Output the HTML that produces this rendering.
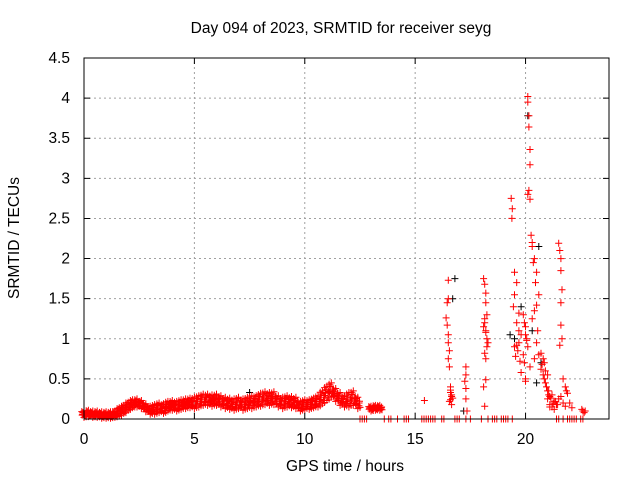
<!DOCTYPE html>
<html><head><meta charset="utf-8"><style>
body{margin:0;background:#fff}
svg{display:block;font-family:"Liberation Sans",sans-serif;font-size:15.5px}
</style></head><body>
<svg id="chart" width="640" height="480">
<rect width="640" height="480" fill="#fff"/>
<text x="341" y="33" text-anchor="middle">Day 094 of 2023, SRMTID for receiver seyg</text>
<text transform="translate(19,238) rotate(-90)" text-anchor="middle">SRMTID / TECUs</text>
<text x="345" y="471" text-anchor="middle">GPS time / hours</text>
<g id="grid"></g>
<g id="ticks"></g>
<g id="marks"></g>
<rect x="84" y="58" width="525" height="361" fill="none" stroke="#000"/>
</svg>
<script>
const xTicks=[0,5,10,15,20];
const yTicks=[0,0.5,1,1.5,2,2.5,3,3.5,4,4.5];
const yTickLabels=["0","0.5","1","1.5","2","2.5","3","3.5","4","4.5"];
const bandTimes=[0,0.2,0.4,0.6,0.8,1.0,1.2,1.4,1.6,1.8,2.0,2.2,2.4,2.6,2.8,3.0,3.2,3.4,3.6,3.8,4.0,4.2,4.4,4.6,4.8,5.0,5.2,5.4,5.6,5.8,6.0,6.2,6.4,6.6,6.8,7.0,7.2,7.4,7.6,7.8,8.0,8.2,8.4,8.6,8.8,9.0,9.2,9.4,9.6,9.8,10.0,10.2,10.4,10.6,10.8,11.0,11.2,11.4,11.6,11.8,12.0,12.2,12.4,13.0,13.2,13.4];
const bandValues=[0.06,0.07,0.06,0.06,0.05,0.05,0.05,0.06,0.09,0.12,0.16,0.19,0.2,0.18,0.14,0.11,0.12,0.14,0.13,0.16,0.17,0.16,0.18,0.19,0.2,0.2,0.22,0.24,0.24,0.23,0.24,0.22,0.2,0.19,0.18,0.2,0.18,0.2,0.21,0.22,0.24,0.26,0.25,0.26,0.22,0.2,0.22,0.21,0.2,0.16,0.18,0.18,0.2,0.22,0.27,0.32,0.36,0.3,0.25,0.22,0.24,0.26,0.2,0.13,0.14,0.14];
const bandSpread=[0.04,0.04,0.04,0.04,0.04,0.04,0.04,0.04,0.05,0.05,0.05,0.05,0.05,0.05,0.05,0.05,0.06,0.06,0.06,0.06,0.06,0.06,0.06,0.06,0.06,0.07,0.07,0.07,0.07,0.07,0.07,0.07,0.07,0.07,0.07,0.07,0.07,0.07,0.08,0.07,0.08,0.08,0.08,0.08,0.07,0.07,0.07,0.07,0.07,0.06,0.06,0.06,0.06,0.07,0.08,0.09,0.09,0.08,0.08,0.07,0.09,0.09,0.07,0.03,0.03,0.03];
const scatterTimes=[15.42,16.5,16.5,16.45,16.4,16.45,16.5,16.5,16.55,16.5,16.55,16.6,16.6,16.65,16.6,16.65,17.3,17.3,17.25,17.3,17.3,17.35,18.1,18.15,18.2,18.2,18.25,18.15,18.1,18.2,18.25,18.3,18.15,18.2,18.2,18.1,18.15,19.35,19.4,19.38,19.5,19.6,19.5,19.45,19.7,19.6,19.8,19.7,19.5,19.9,19.75,19.8,20.0,20.1,20.1,20.15,20.15,20.2,20.2,20.15,20.1,20.2,20.25,20.3,20.3,20.4,20.35,20.5,20.45,20.6,20.5,20.4,20.3,20.55,20.5,20.6,20.4,20.7,20.8,20.85,20.9,21.0,20.9,21.05,21.0,21.1,21.2,21.3,21.4,21.5,21.6,21.7,21.8,21.9,22.0,22.1,21.5,21.55,21.6,21.6,21.65,21.6,21.6,21.65,21.55,21.7,21.8,21.85,22.6,22.65,19.9,20.0,20.05,20.1,19.95,20.2,20.0,16.6,16.65,16.7,16.55,18.15,18.2,18.25,19.6,19.65,19.55,19.7,20.0,20.05,19.95,20.7,20.75,20.8,20.85,20.9,20.95,21.0,21.05,21.1,21.15,21.25,21.35,21.45,21.3,21.2,21.1,22.55,22.7];
const scatterValues=[0.23,1.73,1.5,1.45,1.26,1.17,1.05,0.95,0.85,0.75,0.65,0.4,0.33,0.28,0.24,0.18,0.65,0.55,0.47,0.38,0.25,0.1,1.75,1.68,1.57,1.45,1.3,1.2,1.15,1.08,1.0,0.95,0.82,0.75,0.49,0.4,0.16,2.75,2.62,2.5,1.83,1.7,1.55,1.4,1.32,1.2,1.05,0.95,0.9,0.8,0.72,0.58,0.47,4.02,3.95,3.78,3.64,3.36,3.17,2.85,2.8,2.74,2.29,2.2,2.15,2.0,1.95,1.83,1.7,1.55,1.42,1.35,1.25,1.1,0.95,0.8,0.75,0.82,0.75,0.7,0.6,0.55,0.45,0.35,0.25,0.15,0.3,0.22,0.18,0.25,0.28,0.2,0.16,0.32,0.2,0.14,2.19,2.1,2.0,1.85,1.61,1.45,1.17,1.0,0.92,0.5,0.4,0.35,0.1,0.08,1.3,1.15,1.0,0.9,0.7,0.65,0.5,0.36,0.3,0.26,0.22,1.25,1.1,0.9,0.92,0.85,0.78,1.1,1.05,0.98,1.2,0.62,0.68,0.55,0.5,0.45,0.4,0.35,0.3,0.28,0.26,0.2,0.22,0.18,0.12,0.15,0.18,0.12,0.1];
const zeroTimes=[12.5,12.6,12.7,12.8,13.6,13.8,13.9,14.2,14.5,14.6,14.7,15.3,15.4,15.5,15.6,15.7,15.8,15.9,16.2,16.3,16.8,16.9,17.0,17.3,17.5,18.0,18.3,18.5,18.6,18.7,18.9,19.0,19.1,19.2,19.4,21.4,21.5,21.7,21.9,22.0,22.1,22.2,22.3,22.5,22.6];
const blackTimes=[7.5,16.8,16.7,17.2,19.3,19.5,19.8,20.1,20.3,20.5,20.6,20.7];
const blackValues=[0.33,1.75,1.5,0.1,1.05,1.0,1.4,3.78,1.1,0.45,2.15,0.7];
const X0=84,X1=609,Y0=419,Y1=58,XMAX=23.78,YMAX=4.5;
const sx=t=>X0+(X1-X0)*t/XMAX;
const sy=v=>Y0-(Y0-Y1)*v/YMAX;
const NS="http://www.w3.org/2000/svg";
const grid=document.getElementById('grid'),ticks=document.getElementById('ticks'),marks=document.getElementById('marks');
function mk(tag,attrs,parent){const e=document.createElementNS(NS,tag);for(const k in attrs)e.setAttribute(k,attrs[k]);parent.appendChild(e);return e;}
xTicks.forEach(t=>{const x=sx(t);
 if(t>0){const g=mk('line',{x1:x,x2:x,y1:Y0,y2:Y1,stroke:'#a0a0a0','stroke-dasharray':'2,3'},grid);
 
 }
 mk('path',{d:`M${x},${Y0}v-6M${x},${Y1}v6`,stroke:'#000'},ticks);
 const l=mk('text',{x:x,y:Y0+25,'text-anchor':'middle'},ticks);l.textContent=t;
 
 });
yTicks.forEach((v,i)=>{const y=sy(v);
 if(v>0&&v<YMAX){const g=mk('line',{x1:X0,x2:X1,y1:y,y2:y,stroke:'#a0a0a0','stroke-dasharray':'2,3'},grid);
 
 }
 mk('path',{d:`M${X0},${y}h6M${X1},${y}h-6`,stroke:'#000'},ticks);
 const l=mk('text',{x:X0-14,y:y+5,'text-anchor':'end'},ticks);l.textContent=yTickLabels[i];
 
 });
let black='',red='';
const plus=(t,v)=>{const x=sx(t),y=sy(v);return `M${(x-3.5).toFixed(1)},${y.toFixed(1)}h7M${x.toFixed(1)},${(y-3.5).toFixed(1)}v7`;};
blackTimes.forEach((t,i)=>{black+=plus(t,blackValues[i]);});
bandTimes.forEach((t,i)=>{const c=bandValues[i],s=bandSpread[i];
 [[-0.06,0],[0.06,0],[0,s],[0,-s],[-0.05,s*0.5],[0.05,-s*0.5],[-0.1,s*0.8],[0.1,-s*0.8],[0.08,s*0.3],[-0.08,-s*0.3]].forEach(o=>{red+=plus(t+o[0],Math.max(0,c+o[1]));});});
scatterTimes.forEach((t,i)=>{red+=plus(t,scatterValues[i]);});
zeroTimes.forEach(t=>{red+=plus(t,0);});
const pb=mk('path',{d:black,stroke:'#000','stroke-width':1,fill:'none'},marks);


const pr=mk('path',{d:red,stroke:'#ff0000','stroke-width':1,fill:'none'},marks);


</script>
</body></html>
